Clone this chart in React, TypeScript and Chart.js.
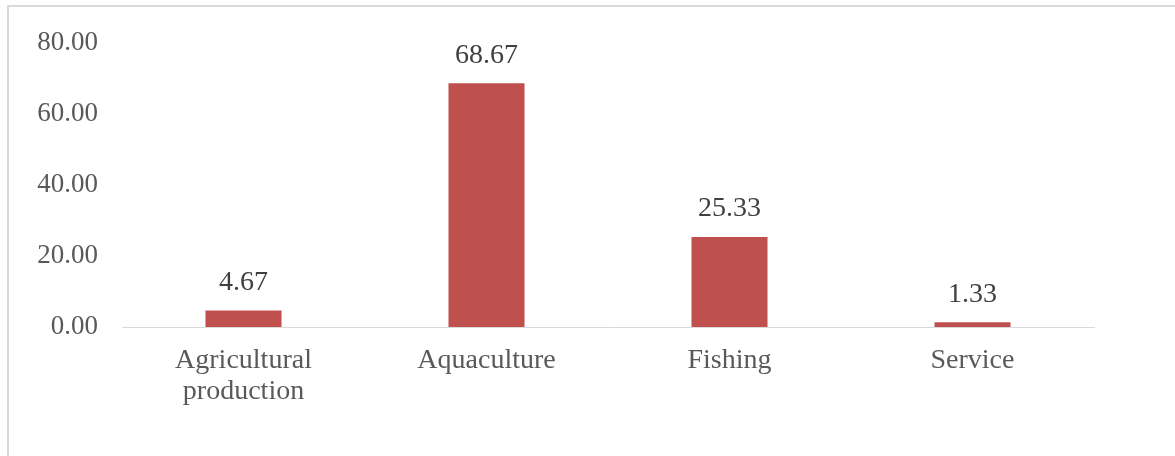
import React, { useEffect, useRef } from "react";
import { Chart, registerables } from "chart.js";

Chart.register(...registerables);

const categories: (string | string[])[] = [["Agricultural", "production"], "Aquaculture", "Fishing", "Service"];
const values: number[] = [4.67, 68.67, 25.33, 1.33];
const yTicks: number[] = [0, 20, 40, 60, 80];

const FONT = "'Liberation Serif', 'Times New Roman', serif";

const labelPlugin = {
  id: "barLabels",
  afterDatasetsDraw(chart: any) {
    const ctx = chart.ctx;
    const meta = chart.getDatasetMeta(0);
    ctx.save();
    ctx.font = `28px ${FONT}`;
    ctx.fillStyle = "#404040";
    ctx.textAlign = "center";
    ctx.textBaseline = "middle";
    meta.data.forEach((el: any, i: number) => {
      ctx.fillText(values[i].toFixed(2), el.x, el.y - 28);
    });
    ctx.restore();
  },
};

export default function App() {
  const ref = useRef<HTMLCanvasElement>(null);
  useEffect(() => {
    if (!ref.current) return;
    const chart = new Chart(ref.current, {
      type: "bar",
      data: {
        labels: categories,
        datasets: [
          {
            data: values,
            backgroundColor: "#C0504D",
            borderWidth: 0,
            barPercentage: 0.313,
            categoryPercentage: 1,
          },
        ],
      },
      options: {
        animation: false,
        responsive: false,
        maintainAspectRatio: false,
        layout: { padding: { left: 0, top: 43, right: 81, bottom: 0 } },
        plugins: { legend: { display: false }, tooltip: { enabled: false } },
        scales: {
          x: {
            grid: { display: false, drawTicks: false },
            border: { display: true, color: "#d9d9d9", width: 1 },
            ticks: {
              color: "#595959",
              font: { family: FONT, size: 28, lineHeight: 1.1 },
              padding: 18,
              maxRotation: 0,
              autoSkip: false,
            },
            afterFit: (s: any) => {
              s.height = 129;
            },
          },
          y: {
            min: 0,
            max: 80,
            afterBuildTicks: (s: any) => {
              s.ticks = yTicks.map((v) => ({ value: v }));
            },
            grid: { display: false, drawTicks: false },
            border: { display: false },
            ticks: {
              color: "#595959",
              font: { family: FONT, size: 27 },
              padding: 24,
              callback: (v: any) => Number(v).toFixed(2),
            },
            afterFit: (s: any) => {
              s.width = 122;
            },
          },
        },
      },
      plugins: [labelPlugin],
    });
    return () => chart.destroy();
  }, []);
  return (
    <div style={{ position: "fixed", left: 0, top: 0, width: 1175, height: 456, overflow: "hidden", background: "#fff" }}>
      <div
        style={{
          position: "absolute",
          left: 7,
          top: 5,
          width: 1300,
          height: 600,
          borderLeft: "2px solid #d9d9d9",
          borderTop: "2px solid #d9d9d9",
          boxSizing: "border-box",
        }}
      />
      <canvas ref={ref} width={1175} height={456} style={{ position: "absolute", left: 0, top: 0 }} />
    </div>
  );
}
